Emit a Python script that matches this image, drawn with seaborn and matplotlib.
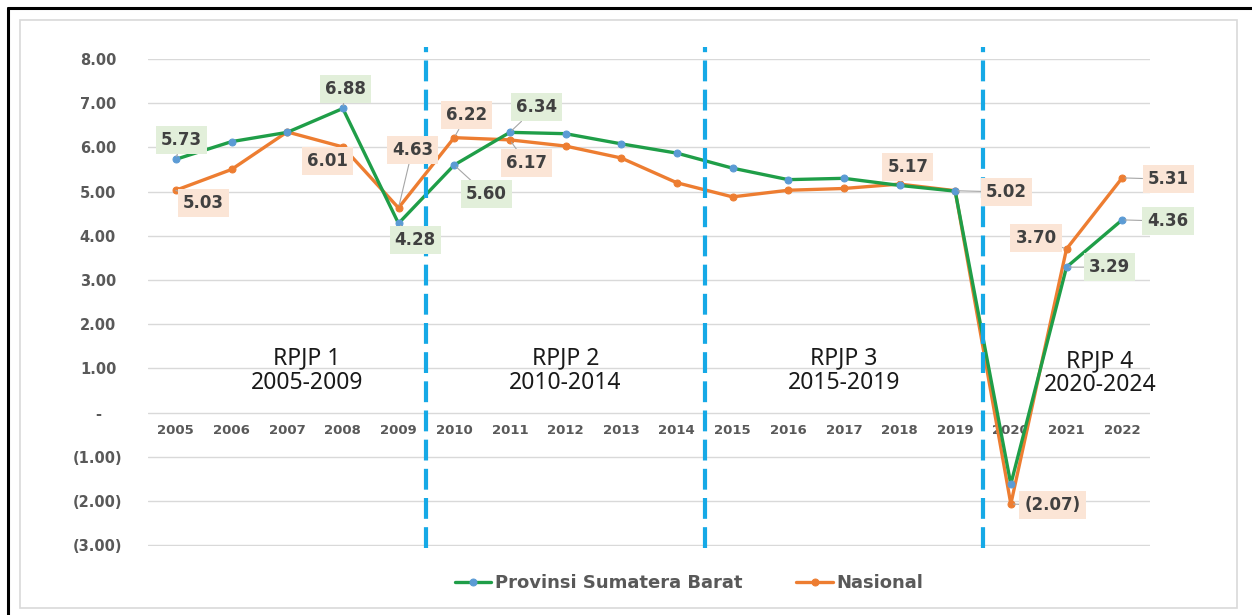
import numpy as np
import pandas as pd
import matplotlib
matplotlib.use("Agg")
import matplotlib.pyplot as plt
import seaborn as sns
from matplotlib.ticker import FuncFormatter
from matplotlib.patches import Rectangle

# ==============================
# Data
# ==============================
years = list(range(2005, 2023))
sumbar = [5.73, 6.13, 6.34, 6.88, 4.28, 5.60, 6.34, 6.31, 6.08, 5.87,
          5.53, 5.27, 5.30, 5.14, 5.01, -1.62, 3.29, 4.36]
nasional = [5.03, 5.50, 6.35, 6.01, 4.63, 6.22, 6.17, 6.03, 5.76, 5.20,
            4.88, 5.03, 5.07, 5.17, 5.02, -2.07, 3.70, 5.31]
series_names = ["Provinsi Sumatera Barat", "Nasional"]
periods = ["RPJP 1\n2005-2009", "RPJP 2\n2010-2014", "RPJP 3\n2015-2019", "RPJP 4\n2020-2024"]
period_breaks = [2009.5, 2014.5, 2019.5]
yticks = [-3, -2, -1, 0, 1, 2, 3, 4, 5, 6, 7, 8]

# labelled points per series (years)
labels_sumbar = [2005, 2008, 2009, 2010, 2011, 2021, 2022]
labels_nasional = [2005, 2008, 2009, 2010, 2011, 2018, 2019, 2020, 2021, 2022]

# label offsets in points (style only)
off_sumbar = {2005: (4, 14), 2008: (2, 14), 2009: (12, -12), 2010: (23, -21),
              2011: (19, 18), 2021: (31, 0), 2022: (33, -1)}
off_nasional = {2005: (20, -9), 2008: (-11, -10), 2009: (10, 42), 2010: (9, 16),
                2011: (12, -17), 2018: (6, 12), 2019: (37, -1), 2020: (30, -1),
                2021: (-22, 8), 2022: (33, -1)}

GREEN = "#1f9e48"
BLUE = "#5b9bd5"
ORANGE = "#ed7d31"
DASH = "#16a9e6"

df = pd.DataFrame({"year": years, series_names[0]: sumbar, series_names[1]: nasional})

sns.set_style("white")
plt.rcParams["font.family"] = ["DejaVu Sans"]

fig = plt.figure(figsize=(12.52, 6.15), dpi=100)
# outer frame lines
fig.add_artist(plt.Line2D([8 / 1252, 8 / 1252], [0, 1 - 8 / 615], color="black", lw=2.2,
                          transform=fig.transFigure))
fig.add_artist(plt.Line2D([8 / 1252, 1], [1 - 8 / 615, 1 - 8 / 615], color="black", lw=2.2,
                          transform=fig.transFigure))
fig.add_artist(Rectangle((20 / 1252, 1 - 608 / 615), (1237 - 20) / 1252, (608 - 20) / 615,
                         transform=fig.transFigure, fill=False, ec="#d9d9d9", lw=1.2))

ax = fig.add_axes([148 / 1252, 1 - 546 / 615, (1150 - 148) / 1252, (546 - 59) / 615])
ax.set_facecolor("none")

sns.lineplot(data=df, x="year", y=series_names[0], color=GREEN, lw=2.4, marker="o",
             markersize=5, markerfacecolor=BLUE, markeredgecolor=BLUE,
             label=series_names[0], ax=ax, zorder=4)
sns.lineplot(data=df, x="year", y=series_names[1], color=ORANGE, lw=2.4, marker="o",
             markersize=5, markerfacecolor=ORANGE, markeredgecolor=ORANGE,
             label=series_names[1], ax=ax, zorder=3)

ax.set_xlim(2004.5, 2022.5)
ax.set_ylim(-3.02, 8)
ax.set_yticks(yticks)
ax.yaxis.grid(True, color="#d9d9d9", lw=1)
ax.set_axisbelow(True)


def fmt(v, pos=None):
    if abs(v) < 1e-9:
        return "-"
    if v < 0:
        return "({:.2f})".format(-v)
    return "{:.2f}".format(v)


ax.yaxis.set_major_formatter(FuncFormatter(fmt))
ax.set_xticks(years)
ax.set_xticklabels([str(y) for y in years])
ax.spines["bottom"].set_position(("data", 0))
for s in ax.spines.values():
    s.set_visible(False)
ax.tick_params(axis="x", length=0, pad=8, labelsize=9.5, labelcolor="#595959")
ax.tick_params(axis="y", length=0, pad=36, labelsize=10.5, labelcolor="#595959")
for t in ax.get_xticklabels() + ax.get_yticklabels():
    t.set_fontweight("bold")
for t in ax.get_yticklabels():
    t.set_horizontalalignment("center")
ax.set_xlabel("")
ax.set_ylabel("")

# period separators
for b in period_breaks:
    ax.axvline(b, ymin=-0.005, ymax=1.025, color=DASH, lw=3, ls=(0, (5, 2)),
               clip_on=False, zorder=5)

# period names
starts = [2004.5] + period_breaks
ends = period_breaks + [2022.5]
for i, txt in enumerate(periods):
    cx = (starts[i] + ends[i]) / 2
    cy = 0.95
    if i == 0:
        cx += 0.35
    if i == 3:
        cx = ends[i] - 0.9
        cy = 0.9
    ax.text(cx, cy, txt, ha="center", va="center", fontsize=16.5, color="#1a1a1a",
            family="Noto Sans", linespacing=1.0, zorder=6)

# data labels
def add_labels(vals, which, offsets, fc):
    for yr in which:
        v = vals[years.index(yr)]
        ax.annotate(fmt(v), xy=(yr, v), xytext=offsets[yr], textcoords="offset points",
                    ha="center", va="center", fontsize=12, fontweight="bold",
                    color="#404040",
                    bbox=dict(boxstyle="square,pad=0.3", fc=fc, ec="none"),
                    arrowprops=dict(arrowstyle="-", color="#a6a6a6", lw=0.8,
                                    shrinkA=0, shrinkB=2),
                    zorder=7)


add_labels(sumbar, labels_sumbar, off_sumbar, "#e2efda")
add_labels(nasional, labels_nasional, off_nasional, "#fbe5d6")

leg = ax.legend(loc="upper center", bbox_to_anchor=(0.54, -0.025), ncol=2, frameon=False,
                prop={"weight": "bold", "size": 13}, handlelength=2.0, handletextpad=0.2,
                columnspacing=3)
for t in leg.get_texts():
    t.set_color("#595959")

fig.savefig("out.png", dpi=100, facecolor="white")
